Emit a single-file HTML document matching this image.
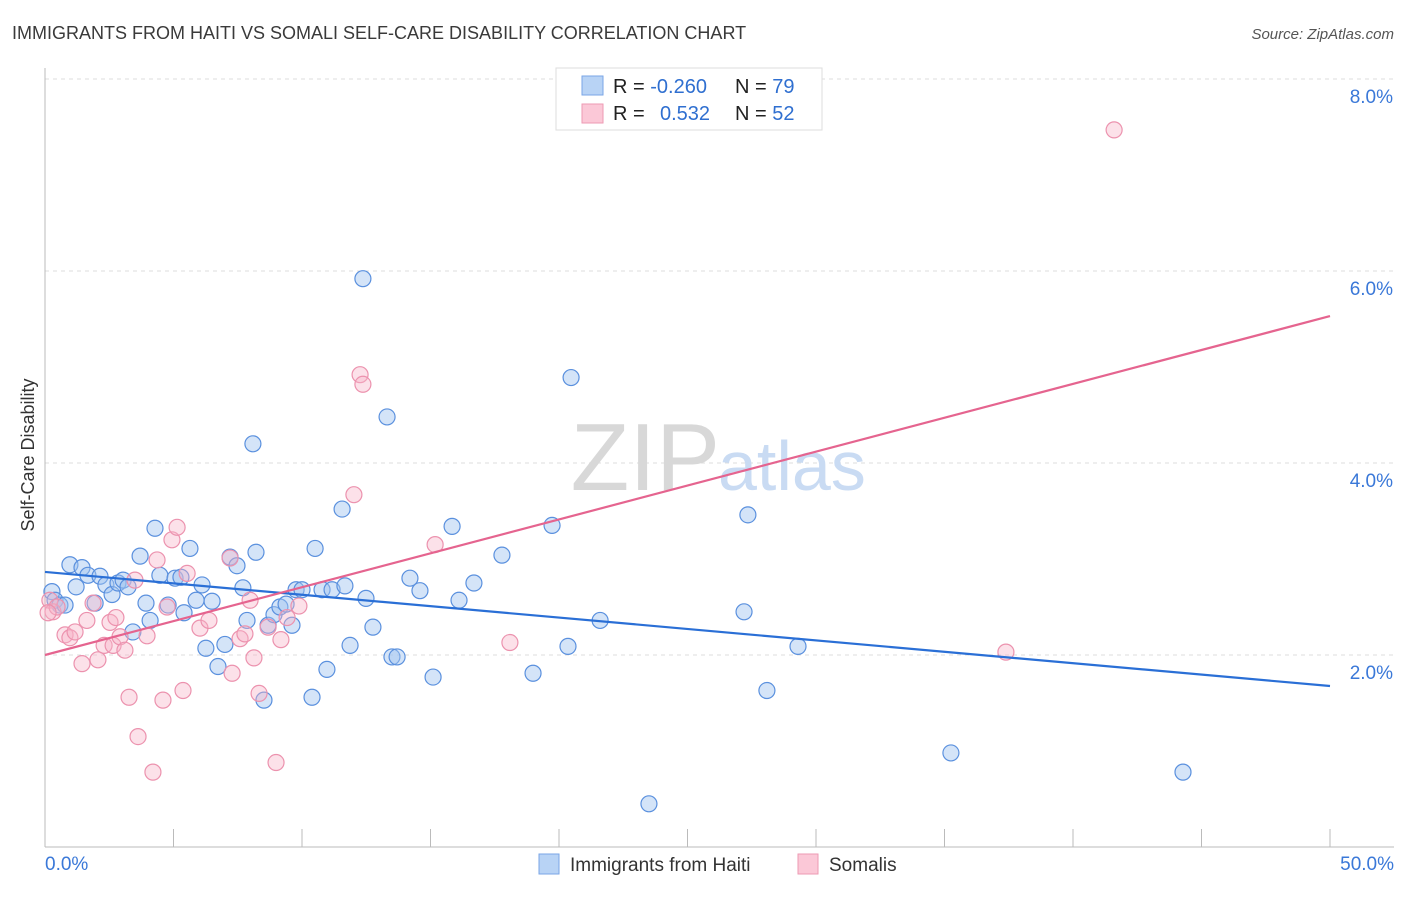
<!DOCTYPE html>
<html><head><meta charset="utf-8"><style>
body{margin:0;background:#fff;font-family:"Liberation Sans",sans-serif;}
svg text{font-family:"Liberation Sans",sans-serif;}
</style></head><body>
<svg id="chart" width="1406" height="892" viewBox="0 0 1406 892" xmlns="http://www.w3.org/2000/svg">
<text x="12" y="39" font-size="18" fill="#3a3a3a">IMMIGRANTS FROM HAITI VS SOMALI SELF-CARE DISABILITY CORRELATION CHART</text>
<text x="1394" y="39" font-size="15" fill="#555" font-style="italic" text-anchor="end">Source: ZipAtlas.com</text>
<g id="grid"></g>
<text x="720" y="490" font-size="96" fill="#d8d8d8" text-anchor="end" font-family="Liberation Serif">ZIP</text>
<text x="718" y="490" font-size="70" fill="#c9dbf3">atlas</text>
<text transform="translate(34,455) rotate(-90)" font-size="18" fill="#333" text-anchor="middle">Self-Care Disability</text>
<g id="ticks"></g>
<g id="pts"></g>
<g id="lines"></g>
<g>
<rect x="556" y="68" width="266" height="62" fill="#fff" stroke="#ddd"/>
<rect x="582" y="76" width="21" height="19" fill="#b8d3f5" stroke="#7aa6e6"/>
<rect x="582" y="104" width="21" height="19" fill="#fbc8d7" stroke="#ee9ab3"/>
<text x="613" y="93" font-size="20" fill="#222">R = <tspan fill="#2f6fd0">-0.260</tspan></text>
<text x="735" y="93" font-size="20" fill="#222">N = <tspan fill="#2f6fd0">79</tspan></text>
<text x="613" y="120" font-size="20" fill="#222">R = <tspan fill="#2f6fd0" x="660">0.532</tspan></text>
<text x="735" y="120" font-size="20" fill="#222">N = <tspan fill="#2f6fd0">52</tspan></text>
</g>
<g>
<rect x="539" y="854" width="20" height="20" fill="#b8d3f5" stroke="#7aa6e6"/>
<text x="570" y="871" font-size="19" fill="#333">Immigrants from Haiti</text>
<rect x="798" y="854" width="20" height="20" fill="#fbc8d7" stroke="#ee9ab3"/>
<text x="829" y="871" font-size="19" fill="#333">Somalis</text>
</g>
</svg>
<script>
const haitiX=[0.27,0.39,0.58,0.78,0.97,1.21,1.44,1.67,1.95,2.14,2.37,2.61,2.84,3.04,3.23,3.42,3.70,3.93,4.09,4.28,4.47,4.79,5.06,5.29,5.41,5.64,5.88,6.11,6.26,6.50,6.73,7.00,7.20,7.47,7.70,7.86,8.09,8.21,8.52,8.68,8.91,9.14,9.38,9.61,9.77,10.0,10.39,10.51,10.78,10.97,11.17,11.56,11.67,11.87,12.37,12.49,12.76,13.31,13.50,13.70,14.20,14.59,15.10,15.84,16.11,16.69,17.78,18.99,19.73,20.35,20.47,21.60,23.50,27.20,27.35,28.09,29.30,35.25,44.28];
const haitiY=[2.66,2.57,2.52,2.52,2.94,2.71,2.91,2.83,2.54,2.82,2.73,2.63,2.75,2.78,2.71,2.24,3.03,2.54,2.36,3.32,2.83,2.52,2.80,2.81,2.44,3.11,2.57,2.73,2.07,2.56,1.88,2.11,3.02,2.93,2.70,2.36,4.20,3.07,1.53,2.31,2.42,2.50,2.53,2.31,2.68,2.68,1.56,3.11,2.68,1.85,2.68,3.52,2.72,2.10,5.92,2.59,2.29,4.48,1.98,1.98,2.80,2.67,1.77,3.34,2.57,2.75,3.04,1.81,3.35,2.09,4.89,2.36,0.45,2.45,3.46,1.63,2.09,0.98,0.78];
const somaliX=[0.19,0.31,0.47,0.12,0.78,0.97,1.17,1.44,1.63,1.87,2.06,2.30,2.53,2.65,2.76,2.92,3.11,3.27,3.50,3.62,3.97,4.20,4.36,4.59,4.75,4.94,5.14,5.37,5.53,6.03,6.38,7.20,7.28,7.59,7.78,7.98,8.13,8.33,8.68,8.99,9.18,9.42,9.88,12.02,12.26,12.37,15.18,18.09,37.39,41.60];
const somaliY=[2.57,2.45,2.50,2.44,2.21,2.18,2.24,1.91,2.36,2.54,1.95,2.10,2.34,2.10,2.39,2.19,2.05,1.56,2.78,1.15,2.20,0.78,2.99,1.53,2.50,3.20,3.33,1.63,2.85,2.28,2.36,3.01,1.81,2.17,2.22,2.57,1.97,1.60,2.29,0.88,2.16,2.39,2.51,3.67,4.92,4.82,3.15,2.13,2.03,7.47];
const haitiTrend=[2.865,1.677];
const somaliTrend=[2.0,5.53];
const yTicks=[2,4,6,8];
const yTickLabels=["2.0%","4.0%","6.0%","8.0%"];
const xTickLabels=["0.0%","50.0%"];
const NS="http://www.w3.org/2000/svg";
const X0=45,X1=1330,Y0=847,PX=96;
const sx=v=>X0+(X1-X0)*v/50;
const sy=v=>Y0-v*PX;
function mk(tag,attrs,parent){const e=document.createElementNS(NS,tag);for(const k in attrs)e.setAttribute(k,attrs[k]);parent.appendChild(e);return e;}
const grid=document.getElementById('grid'),ticks=document.getElementById('ticks'),pts=document.getElementById('pts'),lines=document.getElementById('lines');
yTicks.forEach((t,i)=>{
 const l=mk('line',{x1:X0,x2:1394,y1:sy(t),y2:sy(t),stroke:'#ddd','stroke-dasharray':'4,4'},grid);
 
 
 const tx=mk('text',{x:1393,y:sy(t)+24,'font-size':19,fill:'#3a78d8','text-anchor':'end'},ticks);
 tx.textContent=yTickLabels[i];
 
 
});
const ya=mk('line',{x1:X0,x2:X0,y1:68,y2:Y0,stroke:'#bbb'},ticks);


const xa=mk('line',{x1:X0,x2:1394,y1:Y0,y2:Y0,stroke:'#bbb'},ticks);


for(let i=0;i<=10;i++){
 const t=mk('line',{x1:sx(i*5),x2:sx(i*5),y1:829,y2:Y0,stroke:'#bbb'},ticks);
 
 
}
const xl0=mk('text',{x:45,y:870,'font-size':19,fill:'#3a78d8'},ticks);xl0.textContent=xTickLabels[0];


const xl1=mk('text',{x:1394,y:870,'font-size':19,fill:'#3a78d8','text-anchor':'end'},ticks);xl1.textContent=xTickLabels[1];


haitiX.forEach((x,i)=>{
 const c=mk('circle',{cx:sx(x),cy:sy(haitiY[i]),r:8,fill:'rgba(160,196,240,0.45)',stroke:'#5a90de','stroke-width':1.2},pts);
 
 
});
somaliX.forEach((x,i)=>{
 const c=mk('circle',{cx:sx(x),cy:sy(somaliY[i]),r:8,fill:'rgba(248,180,200,0.4)',stroke:'#ec92ae','stroke-width':1.2},pts);
 
 
});
const lb=mk('line',{x1:sx(0),y1:sy(haitiTrend[0]),x2:sx(50),y2:sy(haitiTrend[1]),stroke:'#2a6fd6','stroke-width':2.2},lines);


const lp=mk('line',{x1:sx(0),y1:sy(somaliTrend[0]),x2:sx(50),y2:sy(somaliTrend[1]),stroke:'#e5648f','stroke-width':2.2},lines);


</script>
</body></html>
